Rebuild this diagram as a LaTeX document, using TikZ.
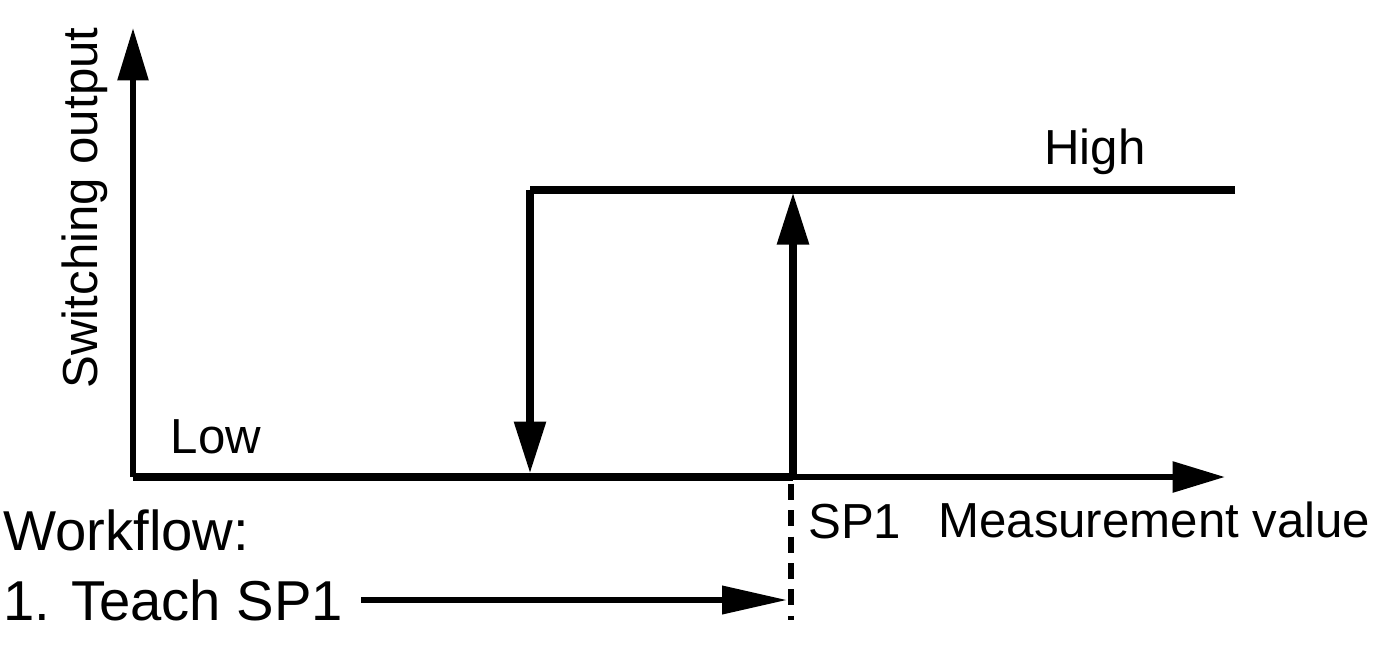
\documentclass[tikz,border=0pt]{standalone}
\usepackage{fontspec}
\setmainfont{Liberation Sans}
\usetikzlibrary{arrows.meta}

\begin{document}
\begin{tikzpicture}[x=0.02cm,y=-0.02cm,
                    >={Triangle[length=1.05cm,width=0.6cm]},
                    every node/.style={font=\fontsize{28}{30}\selectfont,inner sep=0pt}]
  \tikzstyle{axis}=[line width=3.4pt,->]
  \tikzstyle{curve}=[line width=5pt]
  \tikzstyle{bigtext}=[anchor=west,font=\fontsize{32}{34}\selectfont]
  \useasboundingbox (0,0) rectangle (1396,654);

  % axes
  \coordinate (O) at (133,477);
  \coordinate (ytop) at (133,28);
  \coordinate (xend) at (1225,477);
  \draw[axis] (O) -- (ytop);
  \draw[axis] (O) -- (xend);

  % switching curve
  \coordinate (sp) at (793,477);
  \coordinate (sptop) at (793,192);
  \coordinate (hl) at (530,190);
  \coordinate (hr) at (1235,190);
  \coordinate (hb) at (530,474);
  \draw[curve] (O) -- (sp);
  \draw[curve,->] (sp) -- (sptop);
  \draw[curve] (hr) -- (hl);
  \draw[curve,->] (hl) -- (hb);

  % labels
  \node[rotate=90] (yl) at (85,208) {Switching output};
  \node (high) at (1095,152) {High};
  \node (low) at (216,437) {Low};
  \node[anchor=west] (sp1) at (808,522) {SP1};
  \node[anchor=west] (meas) at (938,520) {Measurement value};
  \node[bigtext] (wf) at (3,530) {Workflow:};
  \node[bigtext] (teach) at (3,600) {1. Teach SP1};

  % teach marker
  \coordinate (dtop) at (791,484);
  \coordinate (dbot) at (791,620);
  \draw[line width=3pt,dash pattern=on 9pt off 6pt] (dtop) -- (dbot);
  \draw[line width=3.2pt,->,>={Triangle[length=1.3cm,width=0.55cm]}]
    (teach.east) ++(18,0) coordinate (ts) -- (787,600);
\end{tikzpicture}
\end{document}
